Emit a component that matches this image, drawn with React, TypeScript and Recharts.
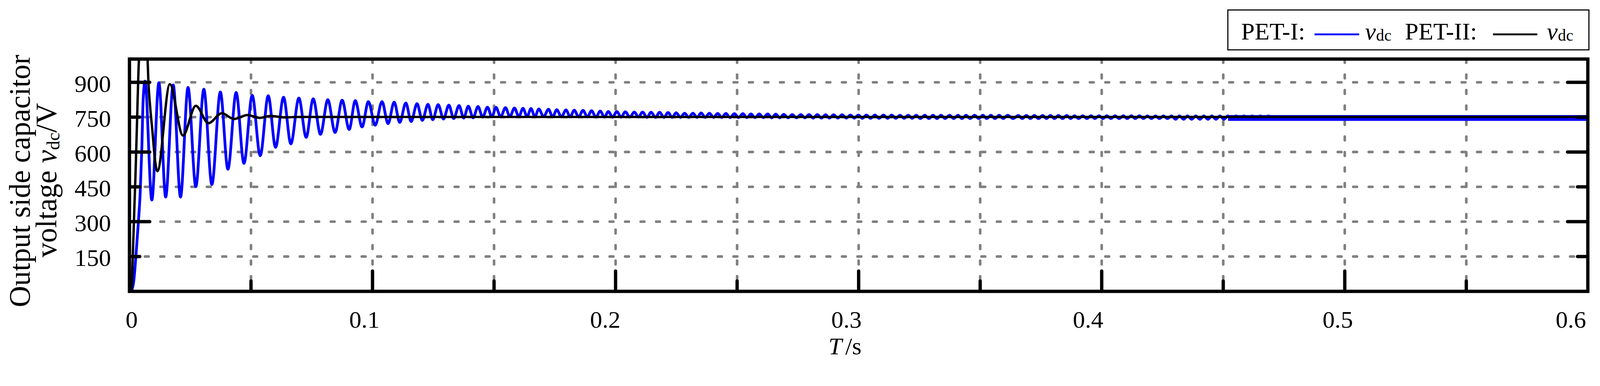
import React from "react";
import {
  ComposedChart,
  Line,
  Area,
  XAxis,
  YAxis,
  CartesianGrid,
  ReferenceArea,
} from "recharts";

// axis ticks
const xTicks = [0, 0.05, 0.1, 0.15, 0.2, 0.25, 0.3, 0.35, 0.4, 0.45, 0.5, 0.55, 0.6];
const xLabels = ["0", "0.1", "0.2", "0.3", "0.4", "0.5", "0.6"];
const yTicks = [150, 300, 450, 600, 750, 900];

// PET-I v_dc (blue), [t (s), v (V)]
const pet1Rise: [number, number][] = [
  [0.0007, 0], [0.0017, 39], [0.0027, 158], [0.0037, 303], [0.0044, 421], [0.0051, 619], [0.0056, 816],
];

const pet1Swing: [number, number][] = [
  [0.0064, 905], [0.0092, 393], [0.0121, 898], [0.0149, 406], [0.018, 889], [0.021, 406],
  [0.0241, 878], [0.0273, 451], [0.0306, 870], [0.0339, 460], [0.0374, 858], [0.0405, 526],
  [0.0439, 856], [0.0471, 551], [0.0505, 844], [0.0538, 584], [0.0571, 842], [0.0601, 620],
  [0.0634, 836], [0.0664, 635], [0.0697, 832], [0.0727, 663], [0.0756, 829], [0.0786, 676],
  [0.0816, 825], [0.0846, 684], [0.0875, 823], [0.0904, 697], [0.0929, 821], [0.0957, 708],
  [0.0983, 817], [0.1011, 715], [0.1039, 817], [0.1064, 722], [0.1089, 815], [0.1112, 727],
  [0.1137, 811], [0.1159, 731], [0.1183, 808], [0.1205, 736], [0.1228, 805], [0.1248, 739],
  [0.127, 804], [0.1292, 742], [0.1314, 802], [0.1334, 744], [0.1356, 800], [0.1375, 746],
  [0.1394, 797], [0.1414, 747], [0.1434, 796], [0.1453, 750], [0.1473, 793], [0.1491, 751],
  [0.1508, 792], [0.1527, 751], [0.1547, 791], [0.1565, 752], [0.1584, 789], [0.1602, 752],
];

const pet1Settle: [number, number][] = [
  [0.1619, 788], [0.1636, 752], [0.1652, 787], [0.1668, 752], [0.1684, 785], [0.1704, 752],
  [0.1724, 784], [0.1741, 751], [0.1758, 782], [0.1777, 751], [0.1796, 781], [0.1813, 751],
  [0.183, 780], [0.1848, 751], [0.1866, 779], [0.1884, 751], [0.1901, 778], [0.1919, 750],
  [0.1937, 776], [0.1954, 750], [0.197, 774], [0.1988, 750], [0.2005, 774], [0.2023, 750],
  [0.204, 773], [0.2059, 750], [0.2077, 772], [0.2094, 750], [0.2111, 772], [0.2129, 749],
  [0.2146, 771], [0.2164, 749], [0.2181, 771], [0.2199, 749], [0.2216, 770], [0.2233, 749],
  [0.2249, 769], [0.2267, 749], [0.2284, 767], [0.2301, 749], [0.2318, 767], [0.2335, 749],
  [0.2352, 768], [0.2369, 749], [0.2386, 767], [0.2403, 749], [0.242, 766], [0.2437, 749],
  [0.2454, 766], [0.2471, 748], [0.2489, 765], [0.2506, 748], [0.2524, 765], [0.254, 748],
  [0.2557, 764], [0.2574, 748], [0.2591, 764], [0.2608, 748], [0.2626, 764], [0.2642, 747],
  [0.2659, 763], [0.2675, 747], [0.2692, 762], [0.271, 747], [0.2727, 761], [0.2744, 747],
  [0.2762, 761], [0.2779, 747], [0.2796, 761], [0.2813, 746], [0.283, 761], [0.2847, 746],
  [0.2864, 760], [0.288, 746], [0.2897, 760], [0.2914, 746], [0.2932, 760], [0.2949, 746],
  [0.2966, 759], [0.2982, 746], [0.2999, 759], [0.3015, 745], [0.3032, 759], [0.3049, 745],
  [0.3067, 759], [0.3084, 745], [0.3102, 759], [0.3119, 745], [0.3136, 759], [0.3153, 745],
  [0.317, 758], [0.3187, 745], [0.3204, 758], [0.322, 745], [0.3237, 758], [0.3254, 744],
  [0.3272, 758], [0.3289, 744], [0.3306, 758], [0.3322, 744], [0.3339, 758], [0.3356, 744],
  [0.3374, 758], [0.3391, 744], [0.3409, 758], [0.3425, 744], [0.3442, 758], [0.3459, 744],
  [0.3477, 758], [0.3494, 744], [0.3511, 758], [0.3527, 744], [0.3544, 758], [0.3561, 744],
  [0.3578, 758], [0.3595, 744], [0.3613, 758], [0.3635, 744],
];

const pet1Tail: [number, number][] = [
  [0.3657, 757], [0.3673, 744], [0.369, 757], [0.3707, 744], [0.3723, 757], [0.374, 744],
  [0.3757, 757], [0.3773, 744], [0.3789, 757], [0.3806, 744], [0.3822, 757], [0.3839, 744],
  [0.3856, 757], [0.3872, 744], [0.3888, 756], [0.3905, 744], [0.3922, 756], [0.3939, 744],
  [0.3956, 756], [0.3972, 744], [0.3989, 756], [0.4005, 744], [0.4021, 756], [0.4038, 744],
  [0.4055, 756], [0.4072, 744], [0.4089, 756], [0.4105, 744], [0.4122, 756], [0.4138, 744],
  [0.4155, 756], [0.4172, 744], [0.4188, 755], [0.4205, 744], [0.4221, 755], [0.4238, 744],
  [0.4254, 755], [0.4271, 744], [0.4287, 755], [0.4304, 741], [0.432, 755], [0.4337, 741],
  [0.4353, 755], [0.437, 741], [0.4387, 755], [0.4404, 741], [0.442, 755], [0.4437, 741],
  [0.4453, 755], [0.447, 741], [0.4486, 755], [0.4503, 741], [0.4519, 755], [0.4536, 741],
  [0.4553, 755], [0.4569, 741], [0.4585, 755], [0.4602, 741], [0.4619, 755], [0.4636, 741],
  [0.4653, 755], [0.467, 741], [0.4686, 755], [0.4703, 741],
];

// beyond ~0.45 s the ripple is finer than the plot resolution: a solid band [t, low, high]
const pet1Band: [number, number, number][] = [
  [0.452, 734, 759],
  [0.6, 734, 759],
];

// PET-II v_dc (black)
const pet2: [number, number][] = [
  [0.0009, 0], [0.0014, 158], [0.002, 355], [0.0025, 507], [0.0029, 651], [0.0032, 763],
  [0.0037, 947], [0.0056, 1200], [0.0075, 987], [0.0078, 901], [0.0085, 796], [0.0095, 684],
  [0.0105, 566], [0.0115, 517], [0.0166, 892], [0.022, 671], [0.0273, 799], [0.0325, 724],
  [0.038, 767], [0.043, 742], [0.0485, 759], [0.0536, 747], [0.058, 755], [0.064, 749],
  [0.07, 751], [0.6, 751],
];

const W = 4338;
const H = 987;
const PLOT_LEFT = 351;
const PLOT_RIGHT = 4305;
const PLOT_TOP = 160;
const PLOT_BOTTOM = 789;
const Y_AXIS_W = 100;
const X_AXIS_H = 100;
const FONT = "'Liberation Serif', 'Times New Roman', serif";

// hand-placed label offsets in the original figure
const X_LABEL_NUDGE: Record<string, number> = {
  "0": 6, "0.1": -22, "0.2": -28, "0.3": -33, "0.4": -37, "0.5": -19, "0.6": -46,
};

const fmtX = (v: number) => String(Number(v.toFixed(2)));

function XTick(props: any) {
  const { x, payload } = props;
  const label = fmtX(payload.value);
  const major = xLabels.includes(label);
  const atEdge = payload.value <= 0 || payload.value >= 0.6;
  return (
    <g>
      {!atEdge && (
        <line
          x1={x}
          x2={x}
          y1={PLOT_BOTTOM}
          y2={PLOT_BOTTOM - (major ? 55 : 28)}
          stroke="#000"
          strokeWidth={9}
          strokeLinecap="round"
        />
      )}
      {major && (
        <text
          x={x + (X_LABEL_NUDGE[label] ?? 0)}
          y={888}
          textAnchor="middle"
          fontFamily={FONT}
          fontSize={66}
          fill="#000"
        >
          {label}
        </text>
      )}
    </g>
  );
}

function YTick(props: any) {
  const { y, payload } = props;
  const major = payload.value % 300 === 0;
  const len = major ? 55 : 28;
  return (
    <g>
      <line x1={PLOT_LEFT} x2={PLOT_LEFT + len} y1={y} y2={y} stroke="#000" strokeWidth={9} strokeLinecap="round" />
      <line x1={PLOT_RIGHT} x2={PLOT_RIGHT - len} y1={y} y2={y} stroke="#000" strokeWidth={9} strokeLinecap="round" />
      <text x={301} y={y + 26} textAnchor="end" fontFamily={FONT} fontSize={66} fill="#000">
        {payload.value}
      </text>
    </g>
  );
}

export default function App() {
  const pet1Data = [...pet1Rise, ...pet1Swing, ...pet1Settle, ...pet1Tail].map(([t, v]) => ({ t, v }));
  const pet1BandData = pet1Band.map(([t, lo, hi]) => ({ t, range: [lo, hi] }));
  const pet2Data = pet2.map(([t, v]) => ({ t, v }));

  // the viewport may come out narrower than the nominal 4338 px (device scale), fit to it
  const vw = typeof window !== "undefined" ? window.innerWidth : W;
  const vh = typeof window !== "undefined" ? window.innerHeight : H;
  const scale = Math.min(1, vw / W, vh / H);

  return (
    <div
      style={{
        position: "absolute",
        left: 0,
        top: 0,
        width: W,
        height: H,
        background: "#fff",
        transform: `scale(${scale})`,
        transformOrigin: "0 0",
      }}
    >
      <style>{"html,body{margin:0;overflow:hidden}"}</style>
      <ComposedChart
        width={W}
        height={H}
        margin={{
          top: PLOT_TOP,
          right: W - PLOT_RIGHT,
          bottom: H - PLOT_BOTTOM - X_AXIS_H,
          left: PLOT_LEFT - Y_AXIS_W,
        }}
      >
        <CartesianGrid
          stroke="#808080"
          strokeWidth={7}
          strokeDasharray="10 32"
          strokeLinecap="round"
        />
        <XAxis
          dataKey="t"
          type="number"
          domain={[0, 0.6]}
          ticks={xTicks}
          interval={0}
          allowDataOverflow
          axisLine={false}
          tickLine={false}
          tickSize={0}
          height={X_AXIS_H}
          tick={XTick}
        />
        <YAxis
          type="number"
          domain={[0, 1000]}
          ticks={yTicks}
          interval={0}
          allowDataOverflow
          axisLine={false}
          tickLine={false}
          tickSize={0}
          width={Y_AXIS_W}
          tick={YTick}
        />
        <Area
          data={pet1BandData}
          dataKey="range"
          type="linear"
          stroke="none"
          fill="#0000ff"
          fillOpacity={1}
          isAnimationActive={false}
        />
        <Line
          data={pet1Data}
          dataKey="v"
          type="monotone"
          stroke="#0000ff"
          strokeWidth={7.5}
          dot={false}
          activeDot={false}
          isAnimationActive={false}
        />
        <Line
          data={pet2Data}
          dataKey="v"
          type="monotone"
          stroke="#000"
          strokeWidth={6.5}
          dot={false}
          activeDot={false}
          isAnimationActive={false}
        />
        <ReferenceArea
          x1={0}
          x2={0.6}
          y1={0}
          y2={1000}
          ifOverflow="visible"
          fill="none"
          stroke="#000"
          strokeWidth={9}
        />
      </ComposedChart>

      <svg
        width={W}
        height={H}
        style={{ position: "absolute", left: 0, top: 0, pointerEvents: "none" }}
        fontFamily={FONT}
      >
        {/* y axis title */}
        <text transform="translate(80,490) rotate(-90)" textAnchor="middle" fontSize={80}>
          Output side capacitor
        </text>
        <text transform="translate(153,488) rotate(-90)" textAnchor="middle" fontSize={80}>
          voltage <tspan fontStyle="italic">v</tspan>
          <tspan fontSize={50} dy={8}>dc</tspan>
          <tspan dy={-8}>/V</tspan>
        </text>

        {/* x axis title */}
        <text x={2291} y={960} textAnchor="middle" fontSize={66}>
          <tspan fontStyle="italic">T</tspan>
          <tspan dx={9}>/s</tspan>
        </text>

        {/* legend */}
        <rect x={3329} y={27} width={979} height={108} fill="#fff" stroke="#000" strokeWidth={3} />
        <text x={3365} y={107} fontSize={66}>PET-I:</text>
        <line x1={3564} x2={3685} y1={93} y2={93} stroke="#0000ff" strokeWidth={5} />
        <text x={3701} y={107} fontSize={66} fontStyle="italic">v</text>
        <text x={3731} y={110} fontSize={44}>dc</text>
        <text x={3809} y={107} fontSize={66}>PET-II:</text>
        <line x1={4048} x2={4168} y1={93} y2={93} stroke="#000" strokeWidth={5} />
        <text x={4194} y={107} fontSize={66} fontStyle="italic">v</text>
        <text x={4224} y={110} fontSize={44}>dc</text>
      </svg>
    </div>
  );
}
